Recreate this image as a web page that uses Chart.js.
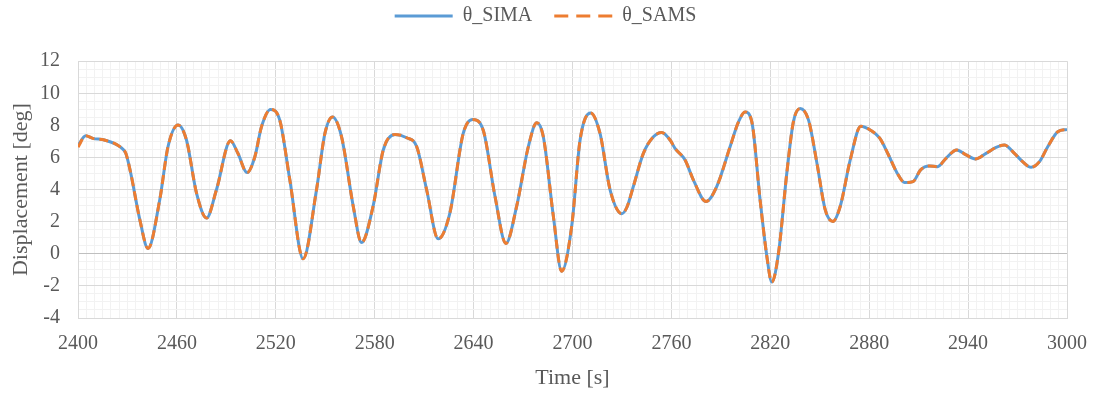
<!DOCTYPE html>
<html>
<head>
<meta charset="utf-8">
<script src="https://cdn.jsdelivr.net/npm/chart.js@4.4.0/dist/chart.umd.min.js"></script>
<style>
  html, body { margin: 0; padding: 0; background: #fff; }
  #wrap { width: 1094px; height: 397px; }
</style>
</head>
<body>
<div id="wrap"><canvas id="chart"></canvas></div>
<script>
// Time [s] of each read point
const times = [
  2400, 2404.7, 2409, 2416, 2426, 2429, 2432, 2437.5, 2442.5, 2449.6,
  2454.6, 2460.7, 2465.8, 2471.9, 2478, 2484, 2492.5, 2497, 2502.6, 2507.3,
  2511.3, 2516.8, 2522.4, 2528.5, 2536.6, 2544.7, 2549.8, 2554.4, 2559.9, 2567,
  2572, 2579, 2585.2, 2592.3, 2599.4, 2605.5, 2611.5, 2618.5, 2625.6, 2633.7,
  2639.4, 2645.8, 2653, 2659.6, 2666.1, 2673.2, 2678.3, 2682.3, 2688.4, 2693.4,
  2699.5, 2704.6, 2711, 2716.7, 2722.8, 2729.9, 2733, 2736.9, 2743, 2749.1,
  2754.1, 2759.2, 2762.2, 2768.3, 2773.3, 2781, 2787.5, 2795.6, 2800.7, 2804.7,
  2808.8, 2813.8, 2817.9, 2820.9, 2825, 2830, 2834, 2838.1, 2843.2, 2848.3,
  2853.3, 2858, 2862.4, 2868.5, 2874.9, 2880.6, 2886.4, 2891.5, 2897, 2901.5,
  2906.6, 2911.2, 2916.5, 2921.5, 2926.6, 2933.1, 2938.8, 2944.4, 2950.9, 2957,
  2962, 2968.1, 2973.1, 2978.2, 2983.3, 2988.3, 2994.4, 3000
];

// θ_SIMA displacement [deg]
const simaValues = [
  6.75, 7.35, 7.19, 7.09, 6.63, 6.26, 5.02, 2.13, 0.33, 3.37,
  6.67, 8.02, 7.09, 3.78, 2.23, 3.99, 7.04, 6.26, 5.06, 6.05,
  7.91, 8.99, 8.33, 4.61, -0.31, 3.99, 7.5, 8.53, 7.29, 2.95,
  0.7, 2.95, 6.47, 7.44, 7.23, 6.67, 3.99, 0.93, 2.54, 7.5,
  8.37, 7.71, 3.57, 0.64, 2.95, 6.67, 8.16, 7.29, 2.33, -1.08,
  1.71, 7.09, 8.78, 7.5, 3.99, 2.5, 2.9, 4.19, 6.26, 7.29,
  7.56, 7.09, 6.57, 5.85, 4.61, 3.26, 4.19, 6.67, 8.22, 8.84,
  8.22, 3.37, -0.15, -1.76, 0.06, 5.02, 8.22, 9.05, 8.33, 5.64,
  2.75, 2.02, 2.95, 5.85, 7.95, 7.71, 7.2, 6.2, 5.02, 4.44,
  4.5, 5.23, 5.47, 5.43, 5.95, 6.47, 6.16, 5.91, 6.26, 6.63,
  6.78, 6.26, 5.74, 5.39, 5.74, 6.67, 7.6, 7.75
];

// θ_SAMS displacement [deg] (overlays SIMA in the picture)
const samsValues = [
  6.65, 7.35, 7.19, 7.09, 6.63, 6.26, 5.02, 2.13, 0.33, 3.37,
  6.67, 8.02, 7.09, 3.78, 2.23, 3.99, 7.04, 6.26, 5.06, 6.05,
  7.91, 8.99, 8.33, 4.61, -0.31, 3.99, 7.5, 8.53, 7.29, 2.95,
  0.7, 2.95, 6.47, 7.44, 7.23, 6.67, 3.99, 0.93, 2.54, 7.5,
  8.37, 7.71, 3.57, 0.64, 2.95, 6.67, 8.16, 7.29, 2.33, -1.08,
  1.71, 7.09, 8.78, 7.5, 3.99, 2.5, 2.9, 4.19, 6.26, 7.29,
  7.56, 7.09, 6.57, 5.85, 4.61, 3.26, 4.19, 6.67, 8.22, 8.84,
  8.22, 3.37, -0.15, -1.76, 0.06, 5.02, 8.22, 9.05, 8.33, 5.64,
  2.75, 2.02, 2.95, 5.85, 7.95, 7.71, 7.2, 6.2, 5.02, 4.44,
  4.5, 5.23, 5.47, 5.43, 5.95, 6.47, 6.16, 5.91, 6.26, 6.63,
  6.78, 6.26, 5.74, 5.39, 5.74, 6.67, 7.6, 7.75
];

const seriesNames = ['θ_SIMA', 'θ_SAMS'];
const xTickLabels = [2400, 2460, 2520, 2580, 2640, 2700, 2760, 2820, 2880, 2940, 3000];
const yTickLabels = [-4, -2, 0, 2, 4, 6, 8, 10, 12];

const FONT = '"Liberation Serif", "DejaVu Serif", serif';
const TEXT = '#595959';

const toPoints = vals => times.map((t, i) => ({ x: t, y: vals[i] }));

new Chart(document.getElementById('chart'), {
  type: 'line',
  data: {
    datasets: [
      {
        label: seriesNames[0],
        data: toPoints(simaValues),
        borderColor: '#5b9bd5',
        backgroundColor: '#5b9bd5',
        borderWidth: 3,
        pointRadius: 0,
        cubicInterpolationMode: 'monotone',
        order: 2
      },
      {
        label: seriesNames[1],
        data: toPoints(samsValues),
        borderColor: '#ed7d31',
        backgroundColor: '#ed7d31',
        borderWidth: 3,
        borderDash: [9, 5],
        pointRadius: 0,
        cubicInterpolationMode: 'monotone',
        order: 1
      }
    ]
  },
  options: {
    responsive: true,
    maintainAspectRatio: false,
    animation: false,
    layout: { padding: { left: 24, right: 27, top: -16, bottom: 6 } },
    plugins: {
      legend: {
        position: 'top',
        labels: {
          usePointStyle: true,
          pointStyle: 'line',
          pointStyleWidth: 58,
          boxHeight: 17,
          color: TEXT,
          font: { family: FONT, size: 20 },
          padding: 22,
          sort: (a, b) => a.datasetIndex - b.datasetIndex,
          // keep the dash of each series in its legend line
          generateLabels: chart => {
            const items = Chart.defaults.plugins.legend.labels.generateLabels(chart);
            items.forEach(it => {
              const ds = chart.data.datasets[it.datasetIndex];
              it.lineDash = ds.borderDash ? [14, 8] : [];
              it.lineWidth = 3;
              it.strokeStyle = ds.borderColor;
            });
            return items;
          }
        }
      },
      // empty spacer between legend and plot
      title: {
        display: true,
        text: '',
        weight: 500,
        font: { size: 1 },
        padding: { top: 24, bottom: 0 }
      },
      tooltip: { enabled: false }
    },
    scales: {
      x: {
        type: 'linear',
        min: 2400,
        max: 3000,
        afterFit: s => { s.height = 73; s.paddingRight = 0; s.paddingLeft = 0; },
        ticks: {
          stepSize: 5,
          autoSkip: false,
          maxTicksLimit: 1000,
          maxRotation: 0,
          padding: 14,
          color: TEXT,
          font: { family: FONT, size: 20 },
          callback: v => xTickLabels.includes(v) ? String(v) : ''
        },
        grid: {
          drawTicks: false,
          color: c => (c.tick && c.tick.value % 60 === 0) ? '#d9d9d9' : '#f2f2f2',
          lineWidth: 1
        },
        border: { display: true, color: '#d9d9d9' },
        title: {
          display: true,
          text: 'Time [s]',
          color: TEXT,
          font: { family: FONT, size: 22 },
          padding: { top: 4, bottom: 0 }
        }
      },
      y: {
        min: -4,
        max: 12,
        afterFit: s => { s.width = 54; },
        ticks: {
          stepSize: 0.5,
          autoSkip: false,
          maxTicksLimit: 1000,
          padding: 18,
          color: TEXT,
          font: { family: FONT, size: 20 },
          callback: v => yTickLabels.includes(v) ? String(v) : ''
        },
        grid: {
          drawTicks: false,
          color: c => {
            const v = c.tick ? c.tick.value : 1;
            if (v === 0) return '#bfbfbf';
            return v % 2 === 0 ? '#d9d9d9' : '#f2f2f2';
          },
          lineWidth: 1
        },
        border: { display: true, color: '#d9d9d9' },
        title: {
          display: true,
          text: 'Displacement [deg]',
          color: TEXT,
          font: { family: FONT, size: 22 },
          padding: { top: -16, bottom: 4 }
        }
      }
    }
  }
});
</script>
</body>
</html>
